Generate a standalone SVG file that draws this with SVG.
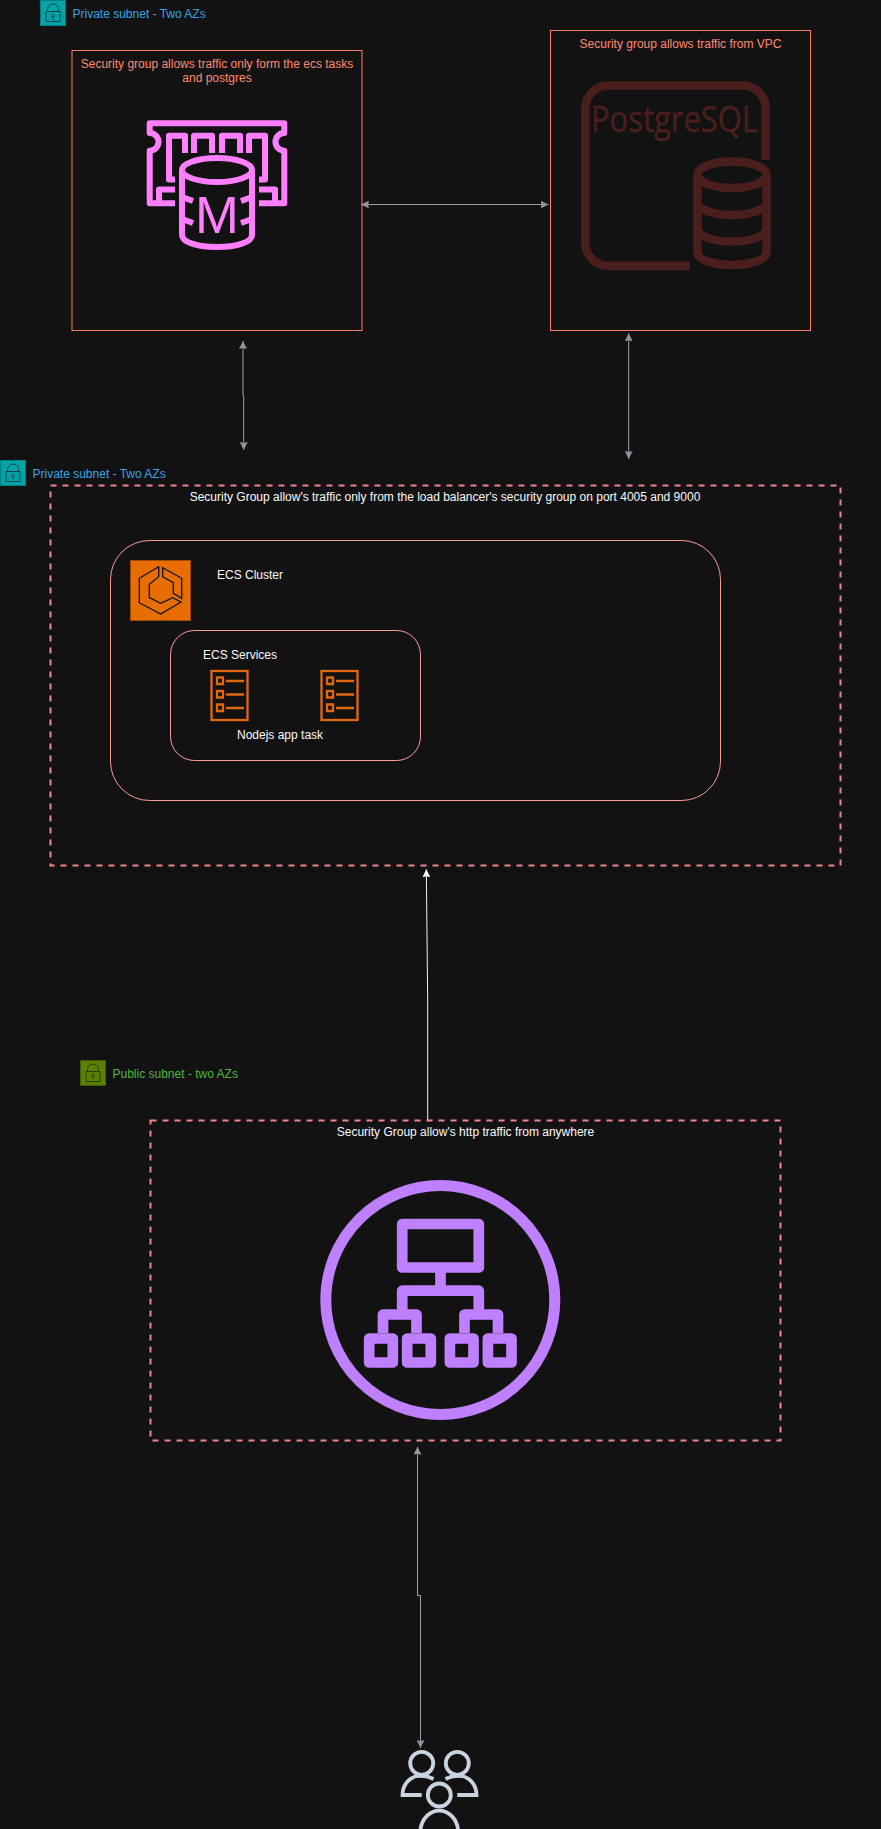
<svg xmlns="http://www.w3.org/2000/svg" width="881" height="1829" viewBox="0 0 881 1829">
<defs>
<style>
text{font-family:"Liberation Sans",Arial,sans-serif;font-size:12px;fill:#fafafa}
.mid{text-anchor:middle}
.sg{fill:#ff8a70}
.blue{fill:#35a4e0}
.green{fill:#4ab83a}
.box{fill:none;stroke:#ff7f66;stroke-width:1}
.dash{fill:none;stroke:#f0858b;stroke-width:2;stroke-dasharray:6 6}
.round{fill:none;stroke:#ff9c9c;stroke-width:1}
.conn{fill:none;stroke:#9aa2ad;stroke-width:1}
.rds{fill:none;stroke:#ff7fff;stroke-width:6;stroke-linejoin:round}
.pg{fill:none;stroke:#4a1e1c;stroke-width:8.5}
.elb{fill:none;stroke:#bf80ff;stroke-width:10.700;stroke-linejoin:round}
.usr{fill:none;stroke:#c9d4e0;stroke-width:3.800}
.task{fill:none;stroke:#e0680f;stroke-width:2.300}
.lock{fill:none;stroke:#00474a;stroke-width:1}
.lockg{fill:none;stroke:#2b3d00;stroke-width:1}
</style>
<marker id="a" viewBox="0 0 8 8" refX="8" refY="4" markerWidth="8" markerHeight="8" markerUnits="userSpaceOnUse" orient="auto-start-reverse"><path d="M0 0L8 4L0 8L1 4Z" fill="#8e959f"/></marker>
<marker id="w" viewBox="0 0 8 8" refX="8" refY="4" markerWidth="8" markerHeight="8" markerUnits="userSpaceOnUse" orient="auto"><path d="M0 0L8 4L0 8L1 4Z" fill="#f5f5f5"/></marker>
<g id="lockglyph"><path d="M7 11.500V9.500a5.500 5.500 0 0 1 11 0V11.500M5.500 11.500h14v10h-14zM12.500 17.200V19.500"/><circle cx="12.500" cy="15.700" r="1.500"/></g>
</defs>
<rect width="881" height="1829" fill="#121212"/>
<g id="connectors">
<path class="conn" d="M361 204.500H548.500" marker-start="url(#a)" marker-end="url(#a)"/>
<path class="conn" d="M243 341V395.500H243.700V450" marker-start="url(#a)" marker-end="url(#a)"/>
<path class="conn" d="M628.700 333.300V459" marker-start="url(#a)" marker-end="url(#a)"/>
<path d="M427.700 1120V1000L426.300 869.300" fill="none" stroke="#f0f0f0" marker-end="url(#w)"/>
<path class="conn" d="M417.500 1446.700V1595.500H420.500V1748" marker-start="url(#a)" marker-end="url(#a)"/>
</g>
<g id="subnet-private-top"><rect x="40.500" y="0.500" width="25" height="25" fill="#00a4a6" stroke="#007f80"/><use href="#lockglyph" class="lock" x="40.500" y="0"/><text class="blue" x="72.500" y="18">Private subnet - Two AZs</text></g>
<g id="sg-redis"><rect class="box" x="72" y="50.500" width="290" height="280"/><text class="sg mid" x="217" y="67.500">Security group allows traffic only form the ecs tasks</text><text class="sg mid" x="217" y="81.500">and postgres</text>
<path class="rds" d="M175 203.300H149.700V150.700A8.800 8.800 0 0 0 149.700 133V123.300H284.300V133A8.800 8.800 0 0 0 284.300 150.700V203.300H259"/>
<path class="rds" d="M175 189.500H159V203M259 189.500H275V203"/>
<path class="rds" stroke-linecap="butt" d="M175 179.500H169V135.700H185V153M194 153V135.700H212V153M222 153V135.700H240V153M249 153V135.700H265V179.500H259"/>
<ellipse class="rds" cx="217" cy="170" rx="35" ry="12"/>
<path class="rds" d="M182 170V235C182 242 197 247 217 247S252 242 252 235V170"/>
<path class="rds" d="M182 197L193 201M182 219L193 223M252 197L241 201M252 219L241 223"/>
<text class="mid" x="217" y="233" style="font-size:52.600px;fill:#ff7fff">M</text></g>
<g id="sg-postgres"><rect class="box" x="550.500" y="30.500" width="260" height="300"/><text class="sg mid" x="680.500" y="48">Security group allows traffic from VPC</text>
<path class="pg" d="M765.700 160V108.500A23 23 0 0 0 742.700 85.500H608.300A23 23 0 0 0 585.300 108.500V242.800A23 23 0 0 0 608.300 265.800H690"/>
<ellipse class="pg" cx="732" cy="174.800" rx="34.500" ry="13.200"/>
<path class="pg" d="M697.500 174.800V252C697.500 259.500 713 265 732 265S766.500 259.500 766.500 252V174.800M697.500 202C697.500 209.500 713 215 732 215S766.500 209.500 766.500 202M697.500 228.600C697.500 236 713 241.600 732 241.600S766.500 236 766.500 228.600"/>
<text x="591" y="131.700" textLength="167" lengthAdjust="spacingAndGlyphs" style="font-family:'Open Sans',sans-serif;font-size:36px;fill:#4a1e1c;stroke:#4a1e1c;stroke-width:0.500">PostgreSQL</text></g>
<g id="subnet-private-ecs"><rect x="0.500" y="460.500" width="25" height="25" fill="#00a4a6" stroke="#007f80"/><use href="#lockglyph" class="lock" x="0.500" y="460"/><text class="blue" x="32.500" y="478">Private subnet - Two AZs</text></g>
<g id="sg-ecs"><rect class="dash" x="50.500" y="485.500" width="790" height="380"/><text class="mid" x="445" y="501">Security Group allow's traffic only from the load balancer's security group on port 4005 and 9000</text></g>
<g id="ecs-cluster"><rect class="round" x="110.500" y="540.500" width="610" height="260" rx="39" ry="39"/>
<rect x="130.500" y="560.500" width="60" height="60" fill="#e76d00" stroke="#9c4a00"/>
<path d="M158.700 566.700L139.300 578.300V602.700L160.700 614L181 602L172.700 597.700L160.700 603.300L149.300 597.700V584.300L158.700 576.700ZM162.700 567.700L181.700 578.300V598.300L173.300 593.300V582.700L162.700 576.700Z" fill="none" stroke="#111" stroke-width="1.300"/>
<text x="217" y="579">ECS Cluster</text></g>
<g id="ecs-services"><rect class="round" x="170.500" y="630.500" width="250" height="130" rx="24" ry="24"/><text x="203" y="659">ECS Services</text><text x="237" y="738.500">Nodejs app task</text>
<g id="task-1"><rect class="task" x="211.500" y="671" width="36" height="49"/><path class="task" d="M217 677.500h6v6.500h-6zM217 691h6v6.500h-6zM217 704.500h6v6.500h-6zM226 681h18M226 694.500h18M226 708h18"/></g>
<g id="task-2"><rect class="task" x="321.500" y="671" width="36" height="49"/><path class="task" d="M327 677.500h6v6.500h-6zM327 691h6v6.500h-6zM327 704.500h6v6.500h-6zM336 681h18M336 694.500h18M336 708h18"/></g></g>
<g id="subnet-public"><rect x="80.500" y="1060.500" width="25" height="25" fill="#5a8000" stroke="#3f5c00"/><use href="#lockglyph" class="lockg" x="80.500" y="1060"/><text class="green" x="112.500" y="1078">Public subnet - two AZs</text></g>
<g id="sg-alb"><rect class="dash" x="150.500" y="1120.500" width="630" height="320"/><text class="mid" x="465.500" y="1136">Security Group allow's http traffic from anywhere</text>
<circle class="elb" style="stroke-width:11" cx="440.300" cy="1300" r="114.500"/>
<rect class="elb" x="402.200" y="1224" width="76.600" height="43.500"/>
<path class="elb" d="M440.500 1272V1290.700M402.200 1310V1290.700H478.800V1310M383 1333V1314.500H416.500V1333M464.500 1333V1314.500H498V1333"/>
<rect class="elb" x="369.200" y="1338.500" width="23.600" height="24"/><rect class="elb" x="407.200" y="1338.500" width="23.600" height="24"/><rect class="elb" x="449.900" y="1338.500" width="23.600" height="24"/><rect class="elb" x="487.900" y="1338.500" width="23.600" height="24"/></g>
<g id="users"><circle class="usr" cx="421.700" cy="1763.300" r="11.500"/><circle class="usr" cx="457.300" cy="1763.300" r="11.500"/><circle class="usr" cx="439.300" cy="1795" r="11.500"/>
<path class="usr" d="M433.500 1779C428 1776 422 1775.500 417 1776C408 1778 402.500 1786 402.500 1795H421.700M445.500 1779C451 1776 457 1775.500 462 1776C471 1778 476.500 1786 476.500 1795H457.300"/>
<path class="usr" d="M420.500 1829A19 22 0 0 1 458 1829"/></g>
</svg>
